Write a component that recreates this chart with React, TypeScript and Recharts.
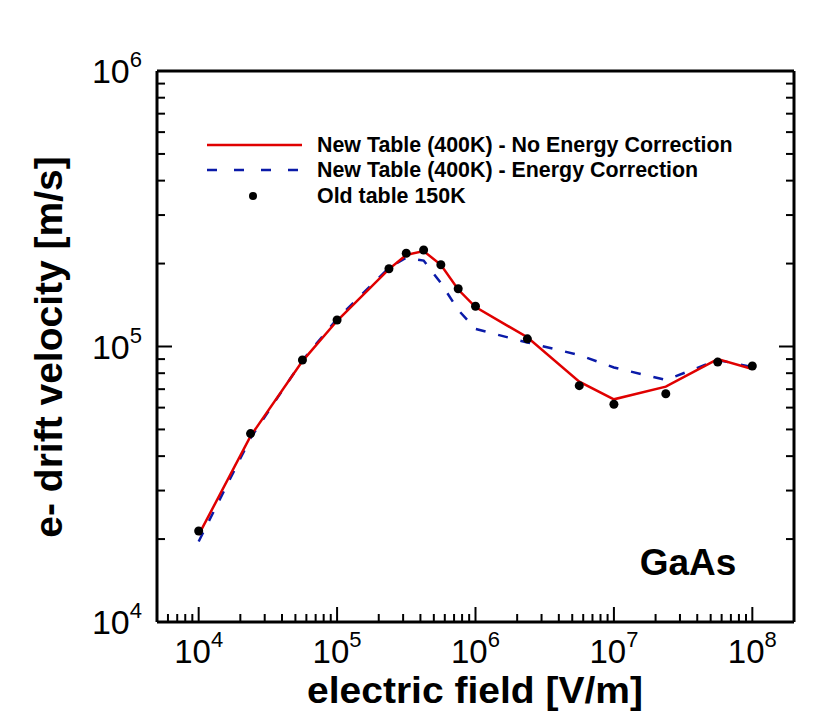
import React from "react";
import {
  ComposedChart,
  Line,
  Scatter,
  XAxis,
  YAxis,
  Legend,
  Customized,
} from "recharts";

// electric field grid [V/m]
const fieldGrid = [
  1e4, 2.37e4, 5.62e4, 1e5, 2.37e5, 3.16e5, 4.22e5, 5.62e5, 7.5e5, 1e6,
  2.37e6, 5.62e6, 1e7, 2.37e7, 5.62e7, 1e8,
];
// drift velocity [m/s]
const noCorrection = [
  2.07e4, 4.73e4, 8.85e4, 1.24e5, 1.91e5, 2.15e5, 2.22e5, 1.98e5, 1.61e5,
  1.39e5, 1.08e5, 7.45e4, 6.43e4, 7.15e4, 9.0e4, 8.29e4,
];
const withCorrection = [
  1.96e4, 4.65e4, 8.9e4, 1.26e5, 1.93e5, 2.1e5, 2.05e5, 1.7e5, 1.357e5,
  1.158e5, 1.034e5, 9.31e4, 8.39e4, 7.56e4, 8.93e4, 8.43e4,
];
const oldTable = [
  2.14e4, 4.83e4, 8.93e4, 1.248e5, 1.915e5, 2.18e5, 2.24e5, 1.98e5, 1.62e5,
  1.4e5, 1.066e5, 7.21e4, 6.17e4, 6.74e4, 8.78e4, 8.5e4,
];

const seriesNames = [
  "New Table (400K) - No Energy Correction",
  "New Table (400K) - Energy Correction",
  "Old table 150K",
];

const xTicks = [
  6e3, 7e3, 8e3, 9e3,
  1e4, 2e4, 3e4, 4e4, 5e4, 6e4, 7e4, 8e4, 9e4,
  1e5, 2e5, 3e5, 4e5, 5e5, 6e5, 7e5, 8e5, 9e5,
  1e6, 2e6, 3e6, 4e6, 5e6, 6e6, 7e6, 8e6, 9e6,
  1e7, 2e7, 3e7, 4e7, 5e7, 6e7, 7e7, 8e7, 9e7,
  1e8,
];
const yTicks = [
  1e4, 2e4, 3e4, 4e4, 5e4, 6e4, 7e4, 8e4, 9e4,
  1e5, 2e5, 3e5, 4e5, 5e5, 6e5, 7e5, 8e5, 9e5,
  1e6,
];

const toPoints = (vals: number[]) => fieldGrid.map((x, i) => ({ x, v: vals[i] }));
const redData = toPoints(noCorrection);
const blueData = toPoints(withCorrection);
const dotData = toPoints(oldTable);

const FONT = "'Liberation Sans', Arial, Helvetica, sans-serif";
const RED = "#e00000";
const BLUE = "#0a1aa8";

const decade = (v: number) => {
  const e = Math.log10(v);
  const r = Math.round(e);
  return Math.abs(e - r) < 1e-6 ? r : null;
};

const makeTick = (side: "bottom" | "top" | "left" | "right") => (props: any) => {
  const { x, y, payload } = props;
  const exp = decade(payload.value);
  const len = exp !== null ? 15 : 8;
  let line;
  if (side === "bottom") line = <line x1={x} y1={y} x2={x} y2={y - len} />;
  else if (side === "top") line = <line x1={x} y1={y} x2={x} y2={y + len} />;
  else if (side === "left") line = <line x1={x} y1={y} x2={x + len} y2={y} />;
  else line = <line x1={x} y1={y} x2={x - len} y2={y} />;
  return (
    <g stroke="#000" strokeWidth={2}>
      {line}
      {exp !== null && side === "bottom" && (
        <text x={x} y={y + 41} textAnchor="middle" fontSize={33} fontFamily={FONT} fill="#000" stroke="none">
          10<tspan dy={-16} fontSize={22}>{exp}</tspan>
        </text>
      )}
      {exp !== null && side === "left" && (
        <text x={x - 15} y={y + 12} textAnchor="end" fontSize={34} fontFamily={FONT} fill="#000" stroke="none">
          10<tspan dy={-16} fontSize={22}>{exp}</tspan>
        </text>
      )}
    </g>
  );
};

const LegendBox = () => {
  const rows = [
    { name: seriesNames[0], kind: "solid" },
    { name: seriesNames[1], kind: "dash" },
    { name: seriesNames[2], kind: "dot" },
  ];
  return (
    <div style={{ fontFamily: FONT, fontWeight: "bold", fontSize: 21.4 }}>
      {rows.map((r) => (
        <div key={r.name} style={{ display: "flex", alignItems: "center", height: 25.5 }}>
          <svg width={110} height={14} style={{ flex: "none" }}>
            {r.kind === "solid" && <line x1={0} y1={7} x2={95} y2={7} stroke={RED} strokeWidth={2.5} />}
            {r.kind === "dash" && (
              <line x1={0} y1={7} x2={95} y2={7} stroke={BLUE} strokeWidth={2.5} strokeDasharray="10 17" />
            )}
            {r.kind === "dot" && <circle cx={46} cy={7} r={4} fill="#000" />}
          </svg>
          <span style={{ whiteSpace: "nowrap", lineHeight: "22px" }}>{r.name}</span>
        </div>
      ))}
    </div>
  );
};

const Titles = () => (
  <g fontFamily={FONT} fontWeight="bold" fill="#000">
    <text
      x={475}
      y={703}
      textAnchor="middle"
      fontSize={36}
      textLength={336}
      lengthAdjust="spacingAndGlyphs"
    >
      electric field [V/m]
    </text>
    <text x={62} y={347} textAnchor="middle" fontSize={39} transform="rotate(-90 62 347)">
      e- drift velocity [m/s]
    </text>
    <text x={688} y={575} textAnchor="middle" fontSize={37}>
      GaAs
    </text>
  </g>
);

const axisLine = { stroke: "#000", strokeWidth: 3 };

export default function App() {
  return (
    <div style={{ position: "absolute", left: 0, top: 0, background: "#fff" }}>
      <ComposedChart
        width={814}
        height={712}
        margin={{ top: 70, right: 19, bottom: 89, left: 156 }}
      >
        <XAxis
          xAxisId="b"
          dataKey="x"
          type="number"
          scale="log"
          domain={[5000, 2e8]}
          allowDataOverflow
          ticks={xTicks}
          interval={0}
          height={1}
          tickSize={0}
          tickMargin={0}
          tickLine={false}
          axisLine={axisLine}
          tick={makeTick("bottom")}
        />
        <XAxis
          xAxisId="t"
          orientation="top"
          type="number"
          scale="log"
          domain={[5000, 2e8]}
          allowDataOverflow
          ticks={xTicks}
          interval={0}
          height={1}
          tickSize={0}
          tickMargin={0}
          tickLine={false}
          axisLine={axisLine}
          tick={makeTick("top")}
        />
        <YAxis
          yAxisId="l"
          type="number"
          scale="log"
          domain={[1e4, 1e6]}
          allowDataOverflow
          ticks={yTicks}
          interval={0}
          width={1}
          tickSize={0}
          tickMargin={0}
          tickLine={false}
          axisLine={axisLine}
          tick={makeTick("left")}
        />
        <YAxis
          yAxisId="r"
          orientation="right"
          type="number"
          scale="log"
          domain={[1e4, 1e6]}
          allowDataOverflow
          ticks={yTicks}
          interval={0}
          width={1}
          tickSize={0}
          tickMargin={0}
          tickLine={false}
          axisLine={axisLine}
          tick={makeTick("right")}
        />
        <Line
          xAxisId="b"
          yAxisId="l"
          data={blueData}
          dataKey="v"
          type="linear"
          stroke={BLUE}
          strokeWidth={2.5}
          strokeDasharray="10 13"
          dot={false}
          isAnimationActive={false}
        />
        <Line
          xAxisId="b"
          yAxisId="l"
          data={redData}
          dataKey="v"
          type="linear"
          stroke={RED}
          strokeWidth={2.5}
          dot={false}
          isAnimationActive={false}
        />
        <Scatter
          xAxisId="b"
          yAxisId="l"
          data={dotData}
          dataKey="v"
          fill="#000"
          isAnimationActive={false}
          shape={(p: any) => <circle cx={p.cx} cy={p.cy} r={4.5} fill="#000" />}
        />
        <Legend
          layout="horizontal"
          verticalAlign="middle"
          align="center"
          content={() => <LegendBox />}
          wrapperStyle={{ left: 207, top: 132, width: 560, height: 80 }}
        />
        <Customized component={Titles} />
      </ComposedChart>
    </div>
  );
}
